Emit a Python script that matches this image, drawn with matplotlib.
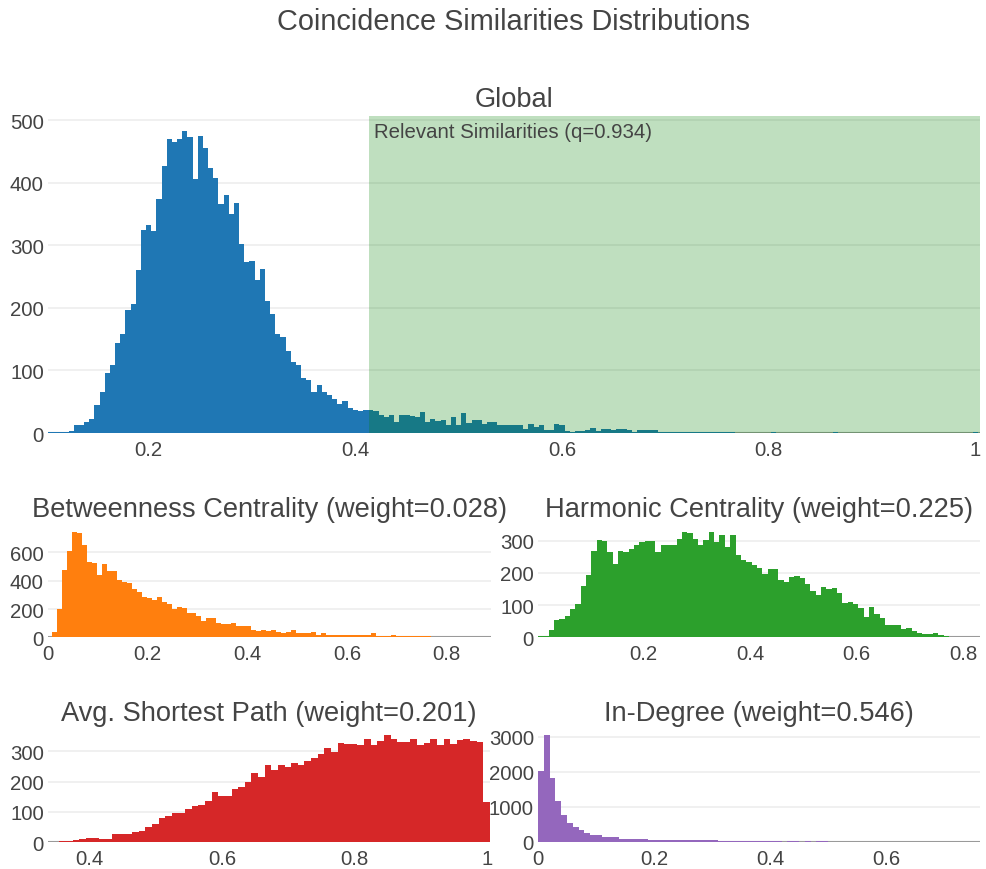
import numpy as np
import matplotlib
matplotlib.use('Agg')
import matplotlib.pyplot as plt

plt.rcParams['font.family'] = ['Liberation Sans', 'DejaVu Sans']

# ---- data (bin counts) ----
global_start, global_width = 0.1025, 0.005
global_counts = [1, 1, 1, 2, 3, 12, 12, 17, 23, 45,
                 65, 96, 109, 144, 158, 197, 206, 261, 324, 333,
                 323, 375, 427, 470, 465, 470, 483, 474, 406, 475,
                 456, 424, 408, 367, 380, 350, 368, 303, 273, 275,
                 245, 263, 211, 191, 158, 153, 131, 114, 109, 88,
                 85, 65, 76, 66, 60, 54, 46, 51, 40, 37,
                 35, 36, 37, 35, 29, 25, 28, 17, 29, 29,
                 27, 25, 34, 18, 23, 19, 20, 13, 26, 13,
                 32, 16, 20, 20, 14, 17, 17, 12, 12, 12,
                 12, 12, 6, 15, 9, 12, 4, 5, 15, 12,
                 3, 2, 3, 3, 5, 8, 3, 6, 6, 5,
                 6, 6, 4, 2, 4, 4, 4, 4, 1, 1,
                 1, 1, 1, 1, 1, 1, 1, 1, 1, 1,
                 1, 1, 1, 0, 0, 0, 0, 0, 0, 0,
                 1, 0, 0, 0, 0, 0, 0, 0, 0, 0,
                 0, 0, 1, 0, 0, 0, 0, 0, 0, 0,
                 0, 0, 0, 0, 0, 0, 0, 0, 0, 0,
                 0, 0, 0, 0, 0, 0, 0, 0, 0, 1]
relevant_threshold = 0.413
relevant_label = 'Relevant Similarities (q=0.934)'

betw_start, betw_width = 0.008, 0.01
betw_counts = [40, 200, 478, 612, 746, 736, 652, 529, 522, 442,
               518, 466, 466, 405, 393, 381, 341, 318, 287, 275,
               266, 282, 247, 235, 200, 212, 205, 172, 172, 148,
               113, 136, 136, 99, 92, 92, 101, 78, 78, 78,
               54, 42, 54, 45, 54, 40, 28, 40, 52, 28,
               28, 28, 40, 16, 28, 16, 16, 16, 16, 16,
               16, 16, 16, 16, 28, 10, 10, 9, 19, 8,
               8, 8, 8, 8, 8, 8, 3, 3, 3, 3,
               0, 0, 0, 0, 0, 0, 0, 1]

harm_start, harm_width = 0.003, 0.01
harm_counts = [3, 3, 23, 55, 57, 67, 88, 103, 158, 194,
               269, 302, 300, 264, 228, 269, 266, 274, 287, 295,
               300, 300, 266, 287, 287, 287, 305, 328, 324, 307,
               287, 303, 328, 297, 318, 282, 318, 256, 240, 233,
               224, 214, 197, 212, 212, 179, 171, 186, 189, 183,
               166, 145, 131, 157, 150, 152, 138, 106, 109, 103,
               90, 62, 93, 72, 59, 39, 39, 39, 26, 28,
               21, 13, 10, 11, 12, 7, 3, 2, 1, 1,
               0, 0, 1]

asp_start, asp_width = 0.354, 0.01
asp_counts = [3, 4, 9, 11, 14, 15, 11, 11, 26, 26,
              27, 33, 38, 49, 60, 79, 85, 96, 96, 108,
              119, 123, 137, 165, 152, 154, 176, 181, 200, 227,
              216, 256, 238, 256, 249, 262, 255, 266, 278, 289,
              311, 297, 327, 324, 324, 319, 341, 319, 335, 352,
              341, 330, 330, 341, 319, 327, 341, 319, 341, 324,
              337, 341, 335, 330, 132]

indeg_start, indeg_width = 0.0, 0.01
indeg_counts = [2011, 3046, 1820, 1178, 766, 527, 431, 335, 249, 192,
                192, 144, 125, 125, 86, 77, 77, 77, 77, 48,
                45, 45, 42, 42, 40, 40, 38, 38, 36, 36,
                35, 34, 33, 32, 32, 30, 30, 29, 28, 27,
                26, 25, 0, 25, 25, 0, 25, 0, 25, 20,
                0, 0, 0, 0, 0, 0, 0, 0, 0, 0,
                0, 0, 0, 0, 0, 0, 0, 0, 0, 0,
                0, 0, 0, 0, 0, 1]

main_title = 'Coincidence Similarities Distributions'

panels = [
    # title, start, width, counts, color, xlim, xticks, xticklabels, yticks
    ('Global', global_start, global_width, global_counts, '#1f77b4',
     (0.1025, 1.0045), [0.2, 0.4, 0.6, 0.8, 1.0], ['0.2', '0.4', '0.6', '0.8', '1'],
     [0, 100, 200, 300, 400, 500]),
    ('Betweenness Centrality (weight=0.028)', betw_start, betw_width, betw_counts, '#ff7f0e',
     (0.0, 0.889), [0, 0.2, 0.4, 0.6, 0.8], ['0', '0.2', '0.4', '0.6', '0.8'],
     [0, 200, 400, 600]),
    ('Harmonic Centrality (weight=0.225)', harm_start, harm_width, harm_counts, '#2ca02c',
     (0.003, 0.831), [0.2, 0.4, 0.6, 0.8], ['0.2', '0.4', '0.6', '0.8'],
     [0, 100, 200, 300]),
    ('Avg. Shortest Path (weight=0.201)', asp_start, asp_width, asp_counts, '#d62728',
     (0.337, 1.004), [0.4, 0.6, 0.8, 1.0], ['0.4', '0.6', '0.8', '1'],
     [0, 100, 200, 300]),
    ('In-Degree (weight=0.546)', indeg_start, indeg_width, indeg_counts, '#9467bd',
     (0.0, 0.762), [0, 0.2, 0.4, 0.6], ['0', '0.2', '0.4', '0.6'],
     [0, 1000, 2000, 3000]),
]

# axes boxes in pixels: left, top, right, bottom
W, H = 986, 870
boxes = [(48, 117, 980, 434),
         (48, 527.5, 491, 638.3),
         (538, 527.5, 980, 638.3),
         (48, 731, 490, 843.3),
         (538, 731, 980, 842.7)]

TXT = '#444444'

fig = plt.figure(figsize=(W / 100, H / 100), dpi=100)
fig.text(513.5 / W, 1 - 30.5 / H, main_title, ha='center', va='baseline',
         fontsize=20.8, color=TXT)

axes = []
for (title, start, width, counts, color, xlim, xt, xtl, yt), (l, t, r, b) in zip(panels, boxes):
    ax = fig.add_axes([l / W, 1 - b / H, (r - l) / W, (b - t) / H])
    counts = np.array(counts, dtype=float)
    edges = start + width * np.arange(len(counts) + 1)
    ax.stairs(counts, edges, fill=True, color=color, linewidth=0, zorder=3)
    ax.set_xlim(*xlim)
    ax.set_ylim(0, counts.max() * 1.05)
    ax.set_xticks(xt)
    ax.set_xticklabels(xtl)
    ax.set_yticks(yt)
    ax.yaxis.grid(True, color='#eeeeee', linewidth=1.2, zorder=0)
    ax.set_axisbelow(True)
    ax.axhline(0, color='#9a9a9a', linewidth=1.5, zorder=2)
    for s in ax.spines.values():
        s.set_visible(False)
    ax.tick_params(axis='both', length=0, labelsize=14.7, labelcolor=TXT)
    ax.tick_params(axis='x', pad=5)
    ax.tick_params(axis='y', pad=3)
    ax.set_title(title, fontsize=19.6, color=TXT, pad=7.5)
    axes.append(ax)

# highlight the relevant region on the global histogram
gax = axes[0]
gax.axvspan(relevant_threshold, 1.0045, color='green', alpha=0.25, linewidth=0, zorder=4)
gax.annotate(relevant_label, xy=(relevant_threshold, gax.get_ylim()[1]),
             xytext=(3.6, -15), textcoords='offset points', ha='left', va='baseline',
             fontsize=14.7, color=TXT, zorder=5)

fig.savefig('out.png', dpi=100)
